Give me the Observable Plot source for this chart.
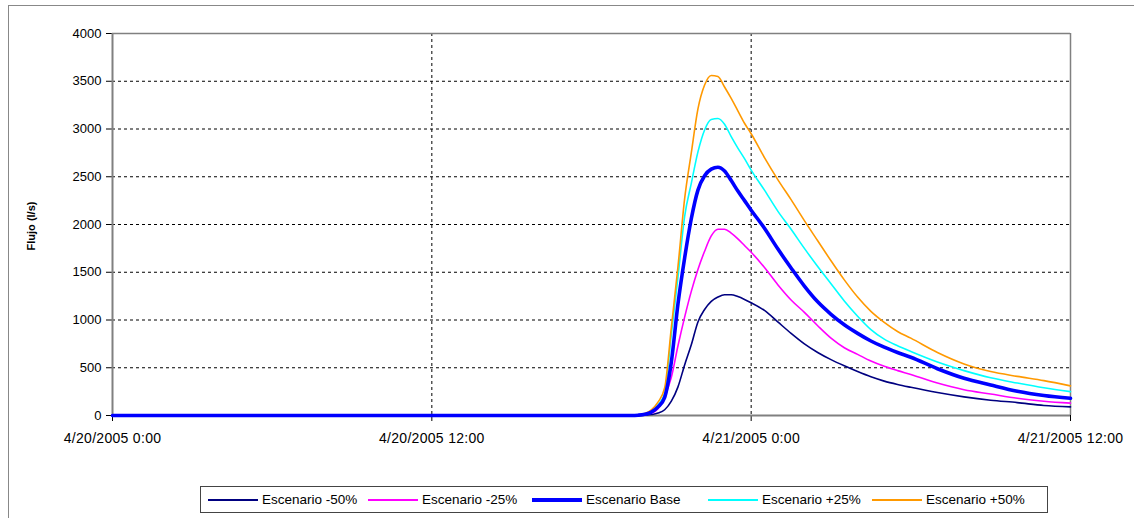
<!DOCTYPE html>
<html>
<head>
<meta charset="utf-8">
<script src="https://cdn.jsdelivr.net/npm/d3@7"></script>
<script src="https://cdn.jsdelivr.net/npm/@observablehq/plot@0.6"></script>
<style>
  html, body { margin: 0; padding: 0; background: #fff; }
  #wrap { position: relative; width: 1134px; height: 518px; overflow: hidden; font-family: "Liberation Sans", Arial, sans-serif; }
  #outer { position: absolute; left: 8px; top: 5px; width: 1140px; height: 530px; border-left: 1px solid #888; border-top: 1px solid #888; }
  #chart { position: absolute; left: 0; top: 0; }
  #ylabel { position: absolute; left: 31px; top: 226px; transform: translate(-50%, -50%) rotate(-90deg); font-weight: bold; font-size: 11px; white-space: nowrap; }
  #legend { position: absolute; left: 200px; top: 486px; width: 846px; height: 25px; border: 1px solid #444; }
  .item { position: absolute; top: 0; height: 25px; display: flex; align-items: center; font-size: 13.5px; white-space: nowrap; }
  .sw { display: inline-block; width: 50px; margin-right: 4px; }
  .xax text { font-size: 14px; letter-spacing: 0.3px; }
</style>
</head>
<body>
<div id="wrap">
  <div id="outer"></div>
  <div id="chart"></div>
  <div id="ylabel">Flujo (l/s)</div>
  <div id="legend"></div>
</div>
<script>
// ---- data ----
const seriesNames = ["Escenario -50%", "Escenario -25%", "Escenario Base", "Escenario +25%", "Escenario +50%"];
// hours since 4/20/2005 0:00
const hours = [0, 19.5, 19.75, 20, 20.25, 20.5, 20.75, 21, 21.25, 21.5, 21.75, 22, 22.25, 22.5, 22.75, 23, 23.25, 23.5, 23.75, 24,
  24.5, 25, 25.5, 26, 26.5, 27, 27.5, 28, 28.5, 29, 29.5, 30, 31, 32, 33, 34, 35, 36];
const menos50 = [0, 0, 0, 3, 10, 25, 60, 150, 300, 530, 740, 980, 1110, 1195, 1240, 1265, 1265, 1245, 1215, 1180,
  1100, 980, 860, 750, 660, 585, 520, 460, 405, 360, 325, 295, 240, 195, 160, 135, 105, 90];
const menos25 = [0, 0, 2, 8, 25, 70, 200, 400, 730, 1030, 1300, 1530, 1720, 1880, 1950, 1950, 1910, 1850, 1780, 1710,
  1550, 1370, 1210, 1080, 940, 810, 710, 640, 570, 515, 470, 430, 340, 270, 225, 180, 150, 130];
const base = [0, 0, 3, 12, 35, 90, 190, 560, 1170, 1650, 2060, 2360, 2510, 2580, 2600, 2560, 2460, 2350, 2250, 2150,
  1960, 1745, 1545, 1355, 1190, 1060, 950, 860, 780, 715, 660, 610, 490, 390, 320, 255, 210, 180];
const mas25 = [0, 0, 3, 15, 45, 110, 230, 850, 1450, 2085, 2430, 2760, 2990, 3100, 3110, 3050, 2920, 2800, 2690, 2570,
  2360, 2140, 1950, 1750, 1560, 1380, 1200, 1040, 900, 800, 730, 670, 560, 470, 395, 340, 290, 250];
const mas50 = [0, 0, 5, 20, 60, 140, 290, 920, 1560, 2270, 2750, 3210, 3460, 3560, 3550, 3440, 3320, 3190, 3060, 2950,
  2700, 2470, 2260, 2040, 1830, 1620, 1420, 1240, 1090, 975, 880, 810, 660, 540, 460, 410, 365, 310];
const yTicks = [0, 500, 1000, 1500, 2000, 2500, 3000, 3500, 4000];
const xTickHours = [0, 12, 24, 36];
const xTickLabels = ["4/20/2005 0:00", "4/20/2005 12:00", "4/21/2005 0:00", "4/21/2005 12:00"];

// ---- styles ----
const colors = ["#000080", "#FF00FF", "#0000FF", "#00FFFF", "#FF9900"];
const widths = [1.6, 1.6, 3.6, 1.6, 1.6];
const drawOrder = [0, 1, 3, 4, 2];
const legendLeft = [7, 167, 331, 507, 671];

const start = Date.UTC(2005, 3, 20);
const toDate = h => new Date(start + h * 3600e3);
const valueSets = [menos50, menos25, base, mas25, mas50];
const series = seriesNames.map((name, k) => ({
  name, color: colors[k], width: widths[k],
  rows: hours.map((h, i) => ({ t: toDate(h), v: valueSets[k][i] }))
}));
const lbl = new Map(xTickHours.map((h, i) => [+toDate(h), xTickLabels[i]]));

const chart = Plot.plot({
  width: 1134, height: 478,
  marginLeft: 112, marginRight: 64, marginTop: 33, marginBottom: 63,
  style: { fontFamily: "'Liberation Sans', Arial, sans-serif", fontSize: "13px", color: "#000", background: "transparent", overflow: "visible" },
  x: { type: "utc", domain: [toDate(0), toDate(36)] },
  y: { domain: [0, 4000] },
  marks: [
    Plot.ruleY(yTicks.filter(d => d > 0 && d < 4000), { stroke: "#000", strokeDasharray: "3,3", strokeWidth: 1 }),
    Plot.ruleX(xTickHours.slice(1, -1).map(toDate), { stroke: "#000", strokeDasharray: "3,3", strokeWidth: 1 }),
    Plot.ruleY([4000], { stroke: "#808080", strokeWidth: 1.5 }),
    Plot.ruleX([toDate(36)], { stroke: "#808080", strokeWidth: 1.5 }),
    Plot.axisY({ ticks: yTicks, tickSize: 6, tickPadding: 5, tickFormat: d => String(d), label: null, stroke: "#000" }),
    Plot.axisX({ ticks: xTickHours.map(toDate), tickSize: 6, tickPadding: 12, tickFormat: d => lbl.get(+d), label: null, stroke: "#000", className: "xax" }),
    Plot.ruleX([toDate(0)], { stroke: "#808080", strokeWidth: 2 }),
    Plot.ruleY([0], { stroke: "#808080", strokeWidth: 2 }),
    ...drawOrder.map(k => Plot.line(series[k].rows, { x: "t", y: "v", stroke: series[k].color, strokeWidth: series[k].width, strokeLinejoin: "round", curve: "monotone-x" }))
  ]
});
document.getElementById("chart").appendChild(chart);

const legend = document.getElementById("legend");
series.forEach((s, k) => {
  const it = document.createElement("div");
  it.className = "item";
  it.style.left = legendLeft[k] + "px";
  const sw = document.createElement("span");
  sw.className = "sw";
  sw.style.height = (k === 2 ? 4 : 2) + "px";
  sw.style.background = s.color;
  it.appendChild(sw);
  it.appendChild(document.createTextNode(s.name));
  legend.appendChild(it);
});
</script>
</body>
</html>
